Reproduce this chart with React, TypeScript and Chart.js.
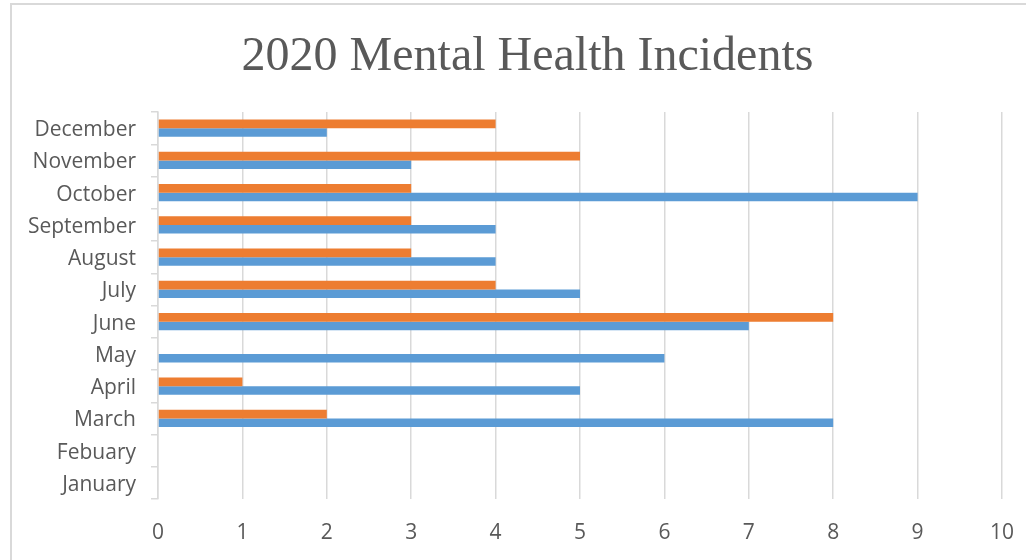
import React, { useEffect, useRef } from "react";
import { Chart, registerables } from "chart.js";

Chart.register(...registerables);

const chartTitle = "2020 Mental Health Incidents";
const months = [
  "January",
  "Febuary",
  "March",
  "April",
  "May",
  "June",
  "July",
  "August",
  "September",
  "October",
  "November",
  "December",
];
const seriesBlue = [0, 0, 8, 5, 6, 7, 5, 4, 4, 9, 3, 2];
const seriesOrange = [0, 0, 2, 1, 0, 8, 4, 3, 3, 3, 5, 4];
const xMin = 0;
const xMax = 10;
const xStep = 1;

const TEXT = "#595959";
const GRID = "#d9d9d9";

const titlePlugin = {
  id: "offsetTitle",
  afterDraw(chart: any) {
    const ctx = chart.ctx;
    ctx.save();
    ctx.font = "normal 48px 'Liberation Serif', 'Times New Roman', serif";
    ctx.fillStyle = TEXT;
    ctx.textAlign = "center";
    ctx.textBaseline = "alphabetic";
    ctx.fillText(chartTitle, 527.5, 70);
    ctx.restore();
  },
};

export default function App() {
  const ref = useRef<HTMLCanvasElement | null>(null);

  useEffect(() => {
    if (!ref.current) return;
    // top-to-bottom order: December ... January
    const labels = [...months].reverse();
    const orange = [...seriesOrange].reverse();
    const blue = [...seriesBlue].reverse();
    const chart = new Chart(ref.current, {
      type: "bar",
      data: {
        labels,
        datasets: [
          {
            label: "Series 2",
            data: orange,
            backgroundColor: "#ED7D31",
            borderWidth: 0,
            categoryPercentage: 0.53,
            barPercentage: 1,
          },
          {
            label: "Series 1",
            data: blue,
            backgroundColor: "#5B9BD5",
            borderWidth: 0,
            categoryPercentage: 0.53,
            barPercentage: 1,
          },
        ],
      },
      plugins: [titlePlugin],
      options: {
        indexAxis: "y",
        animation: false,
        responsive: false,
        maintainAspectRatio: false,
        layout: { padding: { left: 16, right: 24, top: 112, bottom: 0 } },
        plugins: {
          legend: { display: false },
          tooltip: { enabled: false },
          title: { display: false },
        },
        scales: {
          x: {
            type: "linear",
            min: xMin,
            max: xMax,
            ticks: {
              stepSize: xStep,
              color: TEXT,
              font: { family: "'Open Sans', sans-serif", size: 21 },
              padding: 21,
            },
            grid: { color: GRID, lineWidth: 1.5, drawTicks: false },
            border: { display: false },
            afterFit: (s: any) => {
              s.height = 61;
              s.paddingLeft = 0;
              s.paddingRight = 0;
            },
          },
          y: {
            type: "category",
            ticks: {
              color: TEXT,
              autoSkip: false,
              font: { family: "'Open Sans', sans-serif", size: 21 },
              padding: 15,
              labelOffset: 2,
            },
            grid: {
              display: true,
              drawOnChartArea: false,
              drawTicks: true,
              tickLength: 7,
              color: GRID,
              lineWidth: 1.5,
              offset: true,
            },
            border: { display: true, color: GRID, width: 1.5 },
            afterFit: (s: any) => {
              s.width = 142;
              s.paddingTop = 0;
              s.paddingBottom = 0;
            },
          },
        },
      },
    });
    return () => chart.destroy();
  }, []);

  return (
    <div style={{ position: "absolute", left: 0, top: 0, width: 1026, height: 560, background: "#fff", overflow: "hidden" }}>
      <div
        style={{
          position: "absolute",
          left: 10,
          top: 3,
          right: 0,
          bottom: 0,
          borderTop: "2px solid #d9d9d9",
          borderLeft: "2px solid #d9d9d9",
        }}
      />
      <canvas ref={ref} width={1026} height={560} style={{ position: "absolute", left: 0, top: 0, width: 1026, height: 560 }} />
    </div>
  );
}
